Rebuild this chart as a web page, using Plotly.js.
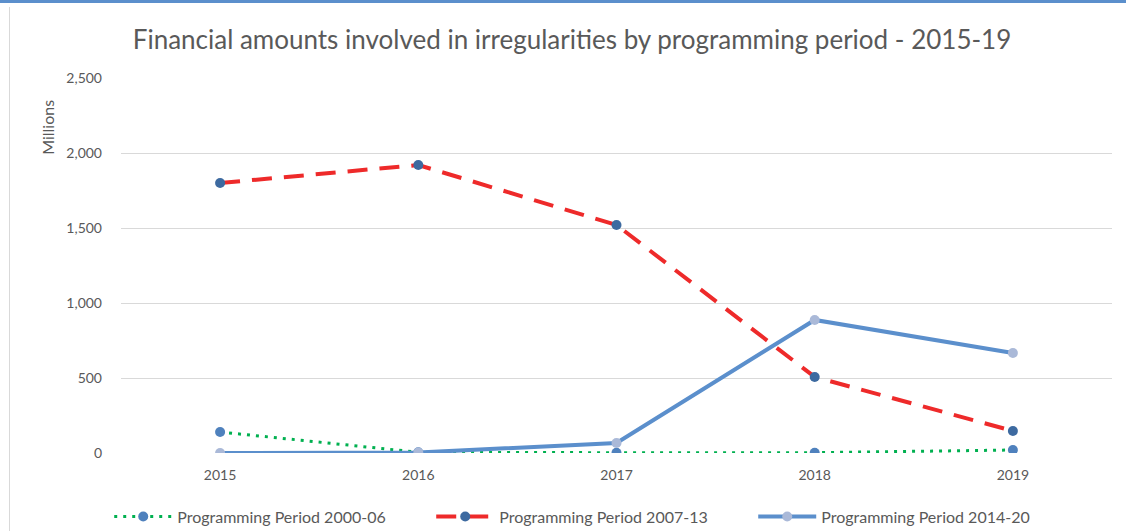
<!DOCTYPE html>
<html>
<head>
<meta charset="utf-8">
<script src="https://cdn.plot.ly/plotly-3.0.1.min.js"></script>
<style>
  body { margin: 0; background: #fff; }
  #wrap { position: relative; width: 1126px; height: 531px; }
  #topbar { position: absolute; left: 0; top: 0; width: 1126px; height: 3px; background: #5b8fcc; }
  #leftbar { position: absolute; left: 9px; top: 7px; width: 1px; height: 524px; background: #d9d9d9; }
</style>
</head>
<body>
<div id="wrap">
  <div id="chart"></div>
  <div id="topbar"></div>
  <div id="leftbar"></div>
</div>
<script>
var years = ['2015', '2016', '2017', '2018', '2019'];
var period0006 = [140, 5, 2, 2, 20];
var period0713 = [1800, 1920, 1520, 507, 147];
var period1420 = [0, 3, 67, 887, 667];

var traces = [
  {
    x: years, y: period0006, name: 'Programming Period 2000-06',
    mode: 'lines+markers', type: 'scatter',
    line: {color: '#00b050', width: 3, dash: '3px,6px'},
    marker: {color: '#4f81bd', size: 10}
  },
  {
    x: years, y: period0713, name: 'Programming Period 2007-13',
    mode: 'lines+markers', type: 'scatter',
    line: {color: '#ee2a2a', width: 4, dash: '20px,12px'},
    marker: {color: '#3d6aa0', size: 10}
  },
  {
    x: years, y: period1420, name: 'Programming Period 2014-20',
    mode: 'lines+markers', type: 'scatter',
    line: {color: '#5b8fcc', width: 4},
    marker: {color: '#aab9d8', size: 10}
  }
];

var layout = {
  width: 1126, height: 531,
  margin: {l: 121, r: 14, t: 78, b: 78},
  paper_bgcolor: '#fff', plot_bgcolor: '#fff',
  font: {family: 'Lato, "Open Sans", sans-serif', color: '#595959', size: 14},
  title: {
    text: 'Financial amounts involved in irregularities by programming period - 2015-19',
    font: {size: 26, color: '#595959'},
    x: 0.508, xref: 'container', xanchor: 'center',
    y: 0.925, yref: 'container', yanchor: 'middle'
  },
  xaxis: {
    type: 'category', showgrid: false, zeroline: false,
    showline: false, ticks: '', ticklabelstandoff: 12,
    range: [-0.5, 4.5]
  },
  yaxis: {
    range: [0, 2500], dtick: 500, tickformat: ',',
    gridcolor: '#d9d9d9', gridwidth: 1, zeroline: false,
    ticks: '', ticklabelstandoff: 18
  },
  annotations: [{
    text: 'Millions', textangle: -90, xref: 'paper', yref: 'paper',
    x: -0.075, y: 0.869, xanchor: 'center', yanchor: 'middle',
    showarrow: false, font: {size: 16, color: '#595959'}
  }],
  showlegend: true,
  legend: {
    orientation: 'h', xref: 'container', yref: 'container',
    x: 0.097, xanchor: 'left', y: 0.027, yanchor: 'middle',
    font: {size: 16, color: '#595959'}, itemwidth: 58,
    entrywidth: 249, entrywidthmode: 'pixels'
  },
  hovermode: false
};

Plotly.newPlot('chart', traces, layout, {displayModeBar: false, staticPlot: true});
</script>
</body>
</html>
